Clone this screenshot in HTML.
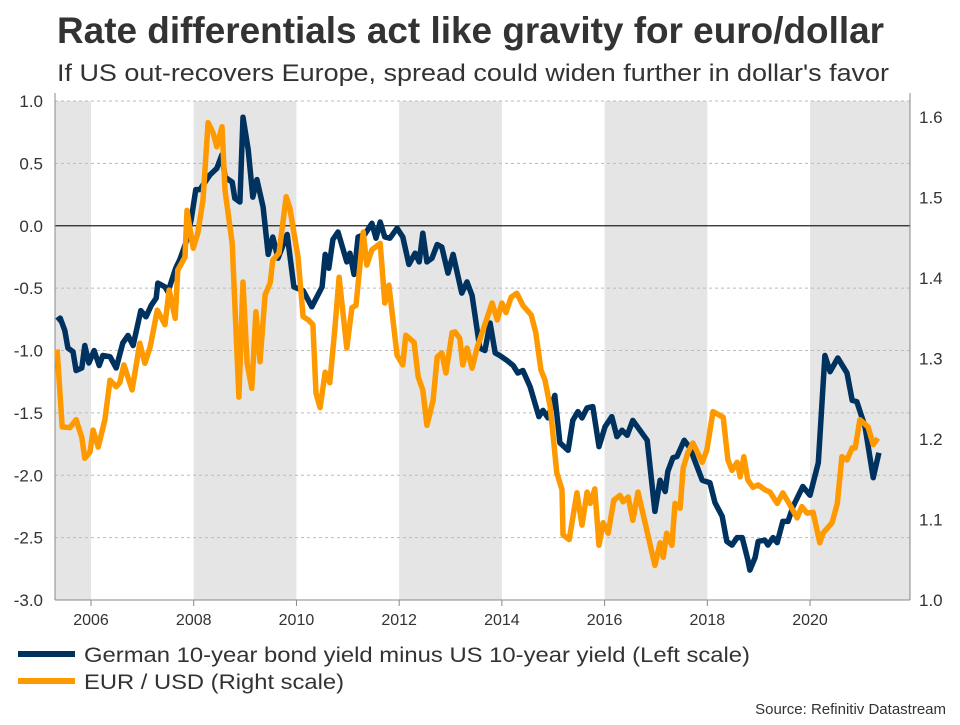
<!DOCTYPE html>
<html><head><meta charset="utf-8"><style>
body{margin:0;background:#fff;font-family:"Liberation Sans",Arial,sans-serif;}
svg text{font-family:"Liberation Sans",Arial,sans-serif;}
</style></head><body>
<svg id="c" width="960" height="720" xmlns="http://www.w3.org/2000/svg">
<text x="57" y="43" font-size="37" font-weight="bold" fill="#333" textLength="827" lengthAdjust="spacingAndGlyphs">Rate differentials act like gravity for euro/dollar</text>
<text x="57" y="81" font-size="24" fill="#333" textLength="832" lengthAdjust="spacingAndGlyphs">If US out-recovers Europe, spread could widen further in dollar's favor</text>
<g id="bands"></g><g id="grid"></g><g id="axes"></g><g id="series"></g>
<g>
<line x1="18" y1="654" x2="75" y2="654" stroke="#00325f" stroke-width="6"/>
<text x="84" y="662" font-size="21" fill="#333" textLength="666" lengthAdjust="spacingAndGlyphs">German 10-year bond yield minus US 10-year yield (Left scale)</text>
<line x1="18" y1="681" x2="75" y2="681" stroke="#ff9900" stroke-width="6"/>
<text x="84" y="689" font-size="21" fill="#333" textLength="260" lengthAdjust="spacingAndGlyphs">EUR / USD (Right scale)</text>
</g>
<text x="946" y="714" font-size="15" fill="#333" text-anchor="end">Source: Refinitiv Datastream</text>
</svg>
<script>
const leftTicks=[1.0,0.5,0.0,-0.5,-1.0,-1.5,-2.0,-2.5,-3.0];
const rightTicks=[1.6,1.5,1.4,1.3,1.2,1.1,1.0];
const yearTicks=[2006,2008,2010,2012,2014,2016,2018,2020];
const shadeStarts=[2005.3,2008,2012,2016,2020];
const shadeEnds=[2006,2010,2014,2018,2021.95];
const spreadDates=[2005.34,2005.40,2005.49,2005.55,2005.65,2005.71,2005.82,2005.88,2005.96,2006.06,2006.16,2006.23,2006.37,2006.49,2006.62,2006.72,2006.82,2006.97,2007.07,2007.17,2007.27,2007.30,2007.44,2007.50,2007.65,2007.73,2007.87,2007.95,2008.04,2008.12,2008.22,2008.32,2008.45,2008.55,2008.61,2008.75,2008.80,2008.90,2008.96,2009.06,2009.15,2009.23,2009.35,2009.45,2009.54,2009.64,2009.82,2009.95,2010.13,2010.30,2010.50,2010.56,2010.63,2010.71,2010.81,2010.98,2011.04,2011.12,2011.20,2011.33,2011.47,2011.55,2011.63,2011.72,2011.82,2011.96,2012.07,2012.19,2012.31,2012.39,2012.46,2012.54,2012.64,2012.74,2012.83,2012.95,2013.05,2013.22,2013.32,2013.42,2013.57,2013.67,2013.77,2013.87,2013.96,2014.10,2014.22,2014.31,2014.41,2014.55,2014.72,2014.80,2014.90,2015.03,2015.13,2015.29,2015.38,2015.48,2015.56,2015.66,2015.77,2015.89,2016.01,2016.14,2016.24,2016.34,2016.44,2016.55,2016.83,2016.98,2017.08,2017.18,2017.23,2017.33,2017.41,2017.55,2017.66,2017.80,2017.90,2018.05,2018.15,2018.29,2018.38,2018.48,2018.58,2018.68,2018.79,2018.83,2018.93,2018.99,2019.12,2019.18,2019.28,2019.36,2019.47,2019.57,2019.67,2019.86,2020.00,2020.16,2020.29,2020.39,2020.54,2020.72,2020.82,2020.91,2021.07,2021.23,2021.34];
const spreadValues=[-0.76,-0.74,-0.84,-0.98,-1.01,-1.16,-1.14,-0.96,-1.10,-1.00,-1.12,-1.04,-1.05,-1.14,-0.94,-0.88,-0.96,-0.68,-0.73,-0.64,-0.58,-0.46,-0.49,-0.53,-0.34,-0.27,-0.11,0.05,0.29,0.29,0.35,0.41,0.46,0.57,0.39,0.35,0.22,0.19,0.87,0.61,0.23,0.37,0.15,-0.23,-0.09,-0.26,-0.07,-0.49,-0.52,-0.65,-0.49,-0.23,-0.34,-0.11,-0.05,-0.29,-0.22,-0.39,-0.09,-0.07,0.02,-0.10,0.03,-0.09,-0.10,-0.02,-0.09,-0.31,-0.22,-0.29,-0.06,-0.29,-0.26,-0.15,-0.17,-0.38,-0.23,-0.54,-0.45,-0.56,-0.98,-1.00,-0.78,-1.02,-1.04,-1.08,-1.12,-1.18,-1.16,-1.29,-1.53,-1.48,-1.54,-1.36,-1.74,-1.80,-1.56,-1.49,-1.54,-1.46,-1.45,-1.77,-1.61,-1.53,-1.69,-1.64,-1.68,-1.56,-1.72,-2.29,-2.04,-2.13,-1.97,-1.86,-1.85,-1.72,-1.78,-1.93,-2.04,-2.06,-2.22,-2.33,-2.53,-2.56,-2.50,-2.50,-2.68,-2.76,-2.66,-2.53,-2.52,-2.56,-2.50,-2.54,-2.37,-2.37,-2.25,-2.09,-2.16,-1.90,-1.04,-1.17,-1.06,-1.18,-1.40,-1.41,-1.61,-2.02,-1.82];
const fxDates=[2005.34,2005.44,2005.59,2005.71,2005.82,2005.88,2005.98,2006.04,2006.14,2006.27,2006.37,2006.49,2006.56,2006.64,2006.80,2006.95,2007.05,2007.15,2007.29,2007.44,2007.52,2007.64,2007.69,2007.83,2007.87,2007.99,2008.08,2008.18,2008.28,2008.38,2008.45,2008.55,2008.61,2008.75,2008.88,2008.96,2009.04,2009.13,2009.21,2009.29,2009.39,2009.49,2009.54,2009.66,2009.80,2009.87,2010.03,2010.13,2010.23,2010.32,2010.38,2010.46,2010.56,2010.65,2010.75,2010.83,2010.98,2011.08,2011.16,2011.30,2011.37,2011.47,2011.63,2011.72,2011.80,2011.96,2012.07,2012.13,2012.29,2012.37,2012.46,2012.54,2012.66,2012.74,2012.83,2012.91,2013.03,2013.09,2013.18,2013.24,2013.32,2013.42,2013.52,2013.81,2013.91,2014.00,2014.08,2014.18,2014.29,2014.41,2014.57,2014.66,2014.76,2014.84,2014.94,2015.07,2015.17,2015.19,2015.31,2015.46,2015.56,2015.66,2015.72,2015.81,2015.89,2015.97,2016.07,2016.18,2016.30,2016.36,2016.46,2016.55,2016.65,2016.98,2017.08,2017.14,2017.21,2017.31,2017.37,2017.47,2017.53,2017.62,2017.72,2017.90,2017.99,2018.11,2018.31,2018.40,2018.48,2018.58,2018.64,2018.71,2018.79,2018.89,2018.99,2019.12,2019.22,2019.36,2019.47,2019.61,2019.75,2019.84,2019.94,2020.06,2020.19,2020.25,2020.43,2020.53,2020.62,2020.72,2020.82,2020.88,2020.97,2021.13,2021.23,2021.32];
const fxValues=[1.311,1.215,1.214,1.224,1.202,1.176,1.184,1.211,1.190,1.224,1.273,1.265,1.270,1.292,1.261,1.319,1.294,1.314,1.360,1.342,1.385,1.350,1.410,1.426,1.484,1.437,1.456,1.497,1.593,1.580,1.563,1.588,1.509,1.443,1.252,1.395,1.294,1.263,1.358,1.296,1.379,1.394,1.422,1.431,1.501,1.487,1.426,1.352,1.348,1.342,1.257,1.239,1.283,1.270,1.339,1.401,1.313,1.363,1.366,1.457,1.416,1.435,1.443,1.369,1.391,1.304,1.292,1.329,1.320,1.277,1.261,1.217,1.248,1.302,1.307,1.282,1.332,1.333,1.325,1.292,1.313,1.288,1.314,1.369,1.348,1.369,1.357,1.376,1.381,1.366,1.354,1.332,1.286,1.273,1.240,1.158,1.137,1.081,1.075,1.133,1.093,1.134,1.120,1.138,1.068,1.096,1.083,1.124,1.130,1.122,1.128,1.099,1.134,1.043,1.071,1.053,1.083,1.068,1.120,1.114,1.164,1.183,1.195,1.171,1.186,1.234,1.227,1.174,1.161,1.171,1.153,1.178,1.149,1.140,1.143,1.137,1.134,1.120,1.133,1.118,1.102,1.116,1.108,1.109,1.071,1.083,1.096,1.120,1.178,1.174,1.189,1.189,1.224,1.215,1.193,1.201];

const NS="http://www.w3.org/2000/svg";
const X0=55,X1=910,YT=101,YB=600;
const x=t=>91+(t-2006)*51.36;
const yL=v=>YT+(1-v)/4*(YB-YT);
const yR=v=>117+(1.6-v)*805;
function mk(tag,attrs,parent){const e=document.createElementNS(NS,tag);for(const k in attrs)e.setAttribute(k,attrs[k]);document.getElementById(parent).appendChild(e);return e;}

for(let i=0;i<shadeStarts.length;i++){
  const a=Math.max(X0,x(shadeStarts[i])),b=Math.min(X1,x(shadeEnds[i]));
  const r=mk('rect',{x:a,y:YT,width:b-a,height:YB-YT,fill:'#e5e5e5'},'bands');
  
  
}
leftTicks.forEach(v=>{
  const y=yL(v);
  if(v!==0&&v!==-3){const g=mk('line',{x1:X0,x2:X1,y1:y,y2:y,stroke:'#bbb','stroke-dasharray':'3,3','stroke-width':1},'grid');
  
  }
  const t=mk('text',{x:43,y:y+6,'font-size':17,fill:'#333','text-anchor':'end'},'axes');
  t.textContent=v.toFixed(1);
  
  
});
const z=mk('line',{x1:X0,x2:X1,y1:yL(0),y2:yL(0),stroke:'#222','stroke-width':1.2},'grid');


rightTicks.forEach(v=>{
  const y=yR(v);
  const t=mk('text',{x:919,y:y+6,'font-size':17,fill:'#333'},'axes');
  t.textContent=v.toFixed(1);
  
  
});
yearTicks.forEach(yr=>{
  const tx=x(yr);
  const l=mk('line',{x1:tx,x2:tx,y1:YB,y2:YB+6,stroke:'#888'},'axes');
  
  
  const t=mk('text',{x:tx,y:625,'font-size':16,fill:'#333','text-anchor':'middle'},'axes');
  t.textContent=yr;
  
  
});
const la=mk('line',{x1:X0,x2:X0,y1:YT-8,y2:YB,stroke:'#888'},'axes');


const ra=mk('line',{x1:X1,x2:X1,y1:YT-8,y2:YB,stroke:'#888'},'axes');


const ba=mk('line',{x1:X0,x2:X1,y1:YB,y2:YB,stroke:'#888'},'axes');



const p1=mk('polyline',{points:spreadDates.map((d,i)=>x(d).toFixed(1)+','+yL(spreadValues[i]).toFixed(1)).join(' '),fill:'none',stroke:'#00325f','stroke-width':5.5,'stroke-linejoin':'round'},'series');


const p2=mk('polyline',{points:fxDates.map((d,i)=>x(d).toFixed(1)+','+yR(fxValues[i]).toFixed(1)).join(' '),fill:'none',stroke:'#ff9900','stroke-width':5.5,'stroke-linejoin':'round'},'series');


</script>
</body></html>
